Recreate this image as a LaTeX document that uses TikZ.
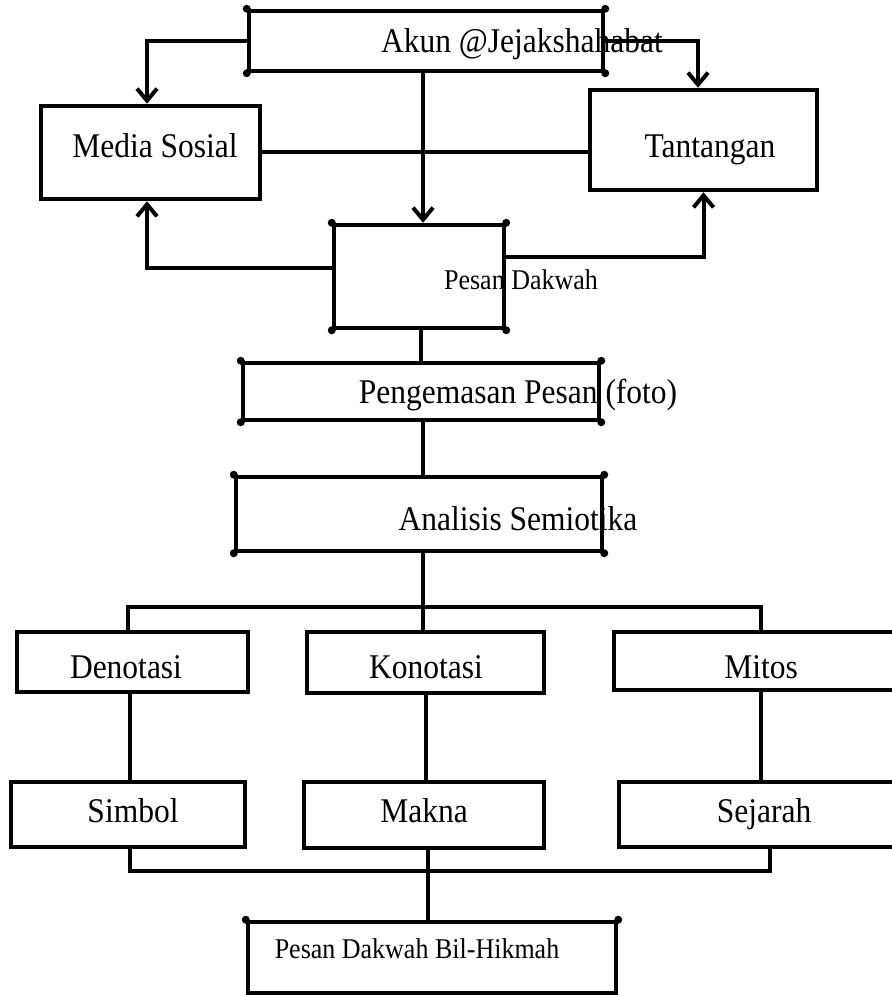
\documentclass[tikz,border=0pt]{standalone}
\usepackage{fontspec}
\usepackage{graphicx}
\setmainfont{Liberation Serif}
\usetikzlibrary{arrows.meta,calc}
\newcommand\vstretch[1]{\scalebox{1}[1.1]{#1}}
\begin{document}
\begin{tikzpicture}[x=1pt,y=-1pt,
  box/.style={draw=black,line width=4.5pt,rectangle,inner sep=0pt},
  lbl/.style={anchor=base,inner sep=0pt,font=\fontsize{31.5}{36}\selectfont},
  slbl/.style={anchor=base,inner sep=0pt,font=\fontsize{26}{30}\selectfont},
  conn/.style={draw=black,line width=4pt},
  arr/.style={conn,-{Straight Barb[length=12pt,width=20pt,line width=4pt]}},
  cdot/.style={fill=black,circle,inner sep=0pt,minimum size=8pt}]
\useasboundingbox (0,0) rectangle (891,995);
\fill[white] (0,0) rectangle (891,995);

% text labels
\node[lbl]  (takun) at (522,53)   {\vstretch{Akun @Jejakshahabat}};
\node[lbl]  (tmed)  at (155,158)  {\vstretch{Media Sosial}};
\node[lbl]  (ttan)  at (710,158)  {\vstretch{Tantangan}};
\node[slbl] (tpes)  at (521,289)  {\vstretch{Pesan Dakwah}};
\node[lbl]  (tpeng) at (518,403)  {\vstretch{Pengemasan Pesan (foto)}};
\node[lbl]  (tana)  at (518,530)  {\vstretch{Analisis Semiotika}};
\node[lbl]  (tden)  at (126,678)  {\vstretch{Denotasi}};
\node[lbl]  (tkon)  at (426,678)  {\vstretch{Konotasi}};
\node[lbl]  (tmit)  at (761,678)  {\vstretch{Mitos}};
\node[lbl]  (tsim)  at (133,822)  {\vstretch{Simbol}};
\node[lbl]  (tmak)  at (424,822)  {\vstretch{Makna}};
\node[lbl]  (tsej)  at (764,822)  {\vstretch{Sejarah}};
\node[slbl] (tbil)  at (417,958)  {\vstretch{Pesan Dakwah Bil-Hikmah}};

% boxes
\node[box,minimum width=354pt,minimum height=60pt]  (akun)  at (426,41) {};
\node[box,minimum width=219pt,minimum height=93pt]  (media) at (150.5,152.5) {};
\node[box,minimum width=227pt,minimum height=100pt] (tant)  at (703.5,140) {};
\node[box,minimum width=170pt,minimum height=103pt] (pesan) at (419,276.5) {};
\node[box,minimum width=356pt,minimum height=57pt]  (peng)  at (421,391.5) {};
\node[box,minimum width=366pt,minimum height=74pt]  (anal)  at (419,514) {};
\node[box,minimum width=231pt,minimum height=60pt]  (deno)  at (132.5,662) {};
\node[box,minimum width=237pt,minimum height=61pt]  (kono)  at (425.5,662.5) {};
\node[box,minimum width=286pt,minimum height=58pt]  (mitos) at (757,661) {};
\node[box,minimum width=234pt,minimum height=65pt]  (simb)  at (128,814.5) {};
\node[box,minimum width=240pt,minimum height=66pt]  (makna) at (424,815) {};
\node[box,minimum width=281pt,minimum height=65pt]  (sej)   at (759.5,814.5) {};
\node[box,minimum width=368pt,minimum height=71pt]  (bil)   at (432,957.5) {};

% corner dots
\foreach \n in {akun,pesan,peng,anal}{
  \node[cdot] at (\n.north west) {};
  \node[cdot] at (\n.north east) {};
  \node[cdot] at (\n.south west) {};
  \node[cdot] at (\n.south east) {};
}
\node[cdot] at (bil.north west) {};
\node[cdot] at (bil.north east) {};

% connectors top part
\draw[arr] (akun.west) -| ([xshift=-3.5pt]media.north);
\draw[arr] (akun.east) -| ([xshift=-5.5pt]tant.north);
\draw[arr] ([xshift=-3pt]akun.south) -- ([xshift=-3pt]akun.south |- pesan.north);
\draw[conn] (media.east) -- (media.east -| tant.west);
\draw[arr] ([yshift=8.5pt]pesan.west) -| ([xshift=-3.5pt]media.south);
\draw[arr] ([yshift=19.5pt]pesan.east) -| (tant.south);
\draw[conn] ([xshift=2pt]pesan.south) -- ([xshift=2pt]pesan.south |- peng.north);
\draw[conn] ([xshift=2pt]peng.south) -- ([xshift=2pt]peng.south |- anal.north);

% bus to three columns
\coordinate (bus) at (423,607);
\coordinate (bl) at (128,607);
\coordinate (br) at (761,607);
\draw[conn] ([xshift=4pt]anal.south) -- (bus);
\draw[conn] (bl |- deno.north) -- (bl) -- (br) -- (br |- mitos.north);
\draw[conn] (bus) -- (bus |- kono.north);

% column verticals
\draw[conn] (130,692) -- (130,782);
\draw[conn] (425.5,693) -- (425.5,782);
\draw[conn] (br |- mitos.south) -- (br |- sej.north);

% bottom bus
\coordinate (bb) at (428,871);
\coordinate (bbl) at (130,871);
\coordinate (bbr) at (770,871);
\draw[conn] (bbl |- simb.south) -- (bbl) -- (bbr) -- (bbr |- sej.south);
\draw[conn] (bb |- makna.south) -- (bb) -- (bb |- bil.north);
\end{tikzpicture}
\end{document}
